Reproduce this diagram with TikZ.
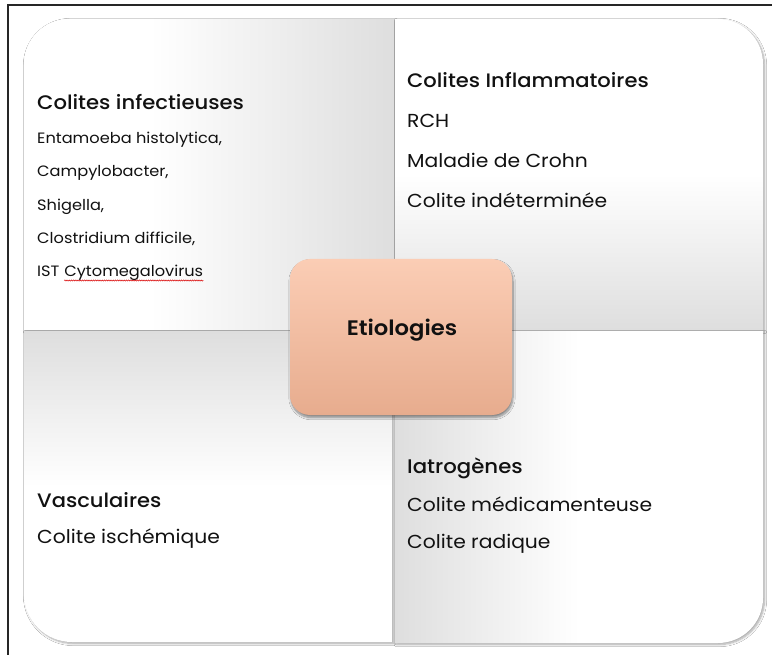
\documentclass[tikz,border=0pt]{standalone}
\usepackage{fontspec}
\setmainfont{Poppins}[FakeStretch=1.08]
\newfontfamily\pmed{Poppins Medium}[FakeStretch=1.08]
\newfontfamily\psemi{Poppins SemiBold}[FakeStretch=1.08]
\usetikzlibrary{shadows.blur,decorations.pathmorphing}
\definecolor{qgrey}{RGB}{222,222,222}
\definecolor{peachtop}{RGB}{251,205,181}
\definecolor{peachbot}{RGB}{231,172,142}
\definecolor{txt}{RGB}{17,17,17}
\pgfdeclarehorizontalshading{tlsh}{100bp}{color(0bp)=(white); color(42bp)=(white); color(75bp)=(qgrey); color(100bp)=(qgrey)}
\pgfdeclareverticalshading{trsh}{100bp}{color(0bp)=(qgrey); color(25bp)=(qgrey); color(50bp)=(white); color(100bp)=(white)}
\pgfdeclareverticalshading{blsh}{100bp}{color(0bp)=(white); color(50bp)=(white); color(75bp)=(qgrey); color(100bp)=(qgrey)}
\pgfdeclarehorizontalshading{brsh}{100bp}{color(0bp)=(qgrey); color(25bp)=(qgrey); color(50bp)=(white); color(100bp)=(white)}
\pgfdeclareverticalshading{peach}{100bp}{color(0bp)=(peachbot); color(25bp)=(peachbot); color(75bp)=(peachtop); color(100bp)=(peachtop)}
\tikzset{
  quad/.style={blur shadow={shadow xshift=1.5pt,shadow yshift=-1.5pt,shadow blur steps=6,shadow blur extra rounding=0pt,shadow opacity=35}},
  head/.style={anchor=base west,inner sep=0pt,font=\pmed\fontsize{19.7}{22}\selectfont,text=txt},
  item/.style={anchor=base west,inner sep=0pt,font=\fontsize{18.8}{22}\selectfont,text=txt},
  smallitem/.style={anchor=base west,inner sep=0pt,font=\fontsize{15}{17}\selectfont,text=txt},
}
\begin{document}
\begin{tikzpicture}[x=1pt,y=1pt]
\useasboundingbox (0,0) rectangle (772,-655);
\fill[white] (0,0) rectangle (772,-655);
% outer frame
\draw[line width=2pt,black!85] (8,-660) -- (8,-5) -- (780,-5);
% quadrants
\path[quad,shading=tlsh] (394,-330) -- (24,-330) -- (24,-64) arc[start angle=180,end angle=90,radius=45] -- (394,-19) -- cycle;
\path[quad,shading=trsh] (395,-19) -- (718,-19) arc[start angle=90,end angle=0,radius=45] -- (763,-330) -- (395,-330) -- cycle;
\path[quad,shading=blsh] (24,-331) -- (392,-331) -- (392,-642) -- (72,-642) arc[start angle=270,end angle=180,radius=48] -- cycle;
\path[quad,shading=brsh] (395,-331) -- (763,-331) -- (763,-598) arc[start angle=0,end angle=-90,radius=45] -- (395,-643) -- cycle;
% centre
\path[rounded corners=20pt,shading=peach,blur shadow={shadow xshift=1pt,shadow yshift=-2.5pt,shadow blur steps=8,shadow opacity=45}] (290,-259) rectangle (512,-415);
\node[anchor=base,inner sep=0pt,font=\psemi\fontsize{21}{24}\selectfont,text=txt] (etio) at (402,-336) {Etiologies};
% top-left
\node[head,font=\pmed\fontsize{19.6}{22}\selectfont] (inf) at (37,-110) {Colites infectieuses};
\node[smallitem] (ent) at (37,-144) {Entamoeba histolytica,};
\node[smallitem] (cam) at (37,-177) {Campylobacter,};
\node[smallitem] (shi) at (37,-211) {Shigella,};
\node[smallitem] (clo) at (37,-244) {Clostridium difficile,};
\node[smallitem] (ist) at (37,-277) {IST};
\node[smallitem] (cmv) at ([xshift=4.5pt]ist.base east) {Cytomegalovirus};
\draw[red!85!black,line width=0.5pt,decorate,decoration={snake,amplitude=0.6pt,segment length=2.2pt}] ([yshift=-3.5pt]cmv.base west) -- ([yshift=-3.5pt]cmv.base east);
% top-right
\node[head,font=\pmed\fontsize{19.5}{22}\selectfont] (infl) at (407,-88) {Colites Inflammatoires};
\node[item] (rch) at (407,-128) {RCH};
\node[item] (crohn) at (407,-168) {Maladie de Crohn};
\node[item] (indet) at (407,-208) {Colite indéterminée};
% bottom-left
\node[head,font=\pmed\fontsize{19.5}{22}\selectfont] (vasc) at (37,-507) {Vasculaires};
\node[item] (isch) at (37,-543) {Colite ischémique};
% bottom-right
\node[head] (iatro) at (407,-473) {Iatrogènes};
\node[item] (medic) at (407,-511) {Colite médicamenteuse};
\node[item] (radi) at (407,-548) {Colite radique};
\end{tikzpicture}
\end{document}
